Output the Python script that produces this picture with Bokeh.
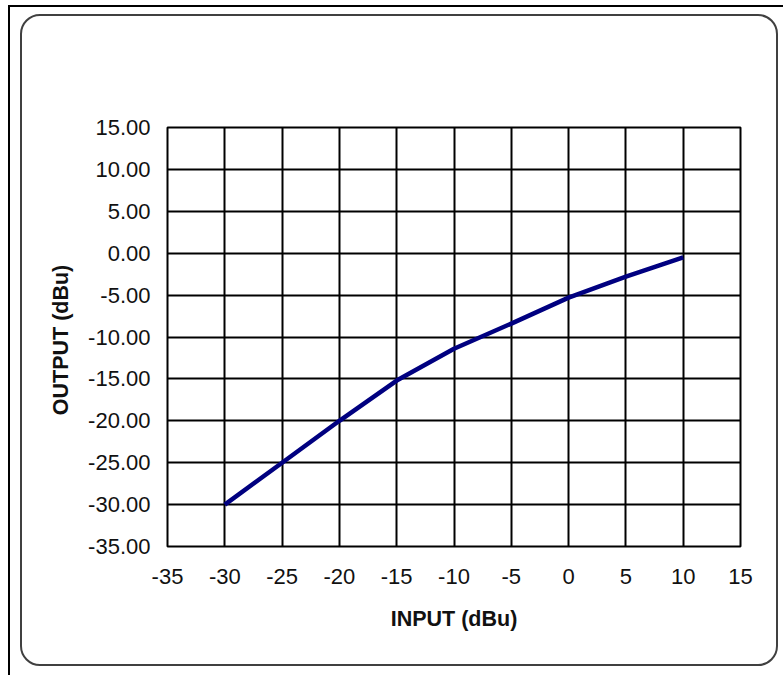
from bokeh.plotting import figure
from bokeh.layouts import column
from bokeh.models import FixedTicker, PrintfTickFormatter, Range1d, Label
from bokeh.embed import file_html
from bokeh.resources import INLINE

# Data
input_dbu = [-30, -25, -20, -15, -10, -5, 0, 5, 10]
output_dbu = [-30.0, -25.0, -20.0, -15.2, -11.4, -8.4, -5.3, -2.8, -0.5]
x_ticks = [-35, -30, -25, -20, -15, -10, -5, 0, 5, 10, 15]
y_ticks = [-35, -30, -25, -20, -15, -10, -5, 0, 5, 10, 15]
title_text = "MIN RATIO"
x_label = "INPUT (dBu)"
y_label = "OUTPUT  (dBu)"

W, H = 754, 648
p = figure(width=W, height=H, output_backend="svg", toolbar_location=None,
           x_range=Range1d(-35, 15), y_range=Range1d(-35, 15),
           min_border_left=145, min_border_right=40,
           min_border_top=111, min_border_bottom=122)
p.styles = {"border": "2px solid #404040", "border-radius": "20px",
            "box-sizing": "content-box"}
p.margin = (7, 0, 0, 10)
p.background_fill_color = "white"
p.border_fill_color = None
p.outline_line_color = "#000000"
p.outline_line_width = 2

FONT = "Liberation Sans"
for ax, ticks, fmt in ((p.xaxis, x_ticks, "%d"), (p.yaxis, y_ticks, "%.2f")):
    ax.ticker = FixedTicker(ticks=ticks)
    ax.formatter = PrintfTickFormatter(format=fmt)
    ax.axis_line_color = None
    ax.major_tick_line_color = None
    ax.minor_tick_line_color = None
    ax.major_tick_in = 0
    ax.major_tick_out = 0
    ax.major_label_text_font = FONT
    ax.major_label_text_font_size = "22px"
    ax.major_label_text_color = "#111111"
    ax.axis_label_text_font = FONT
    ax.axis_label_text_font_size = "21.5px"
    ax.axis_label_text_font_style = "bold"
    ax.axis_label_text_color = "#111111"

p.xaxis.axis_label = x_label
p.yaxis.axis_label = y_label
p.xaxis.major_label_standoff = 22
p.xaxis.axis_label_standoff = 20
p.yaxis.major_label_standoff = 17
p.yaxis.axis_label_standoff = 12

p.xgrid.ticker = FixedTicker(ticks=x_ticks)
p.ygrid.ticker = FixedTicker(ticks=y_ticks)
for g in (p.xgrid, p.ygrid):
    g.grid_line_color = "#000000"
    g.grid_line_width = 2

p.line(input_dbu, output_dbu, line_color="#000080", line_width=4.5)

p.add_layout(Label(x=233, y=496, x_units="screen", y_units="screen", text=title_text,
                   text_font=FONT, text_font_size="22.5px", text_font_style="bold",
                   text_color="#111111", text_align="center", text_baseline="middle"))

page = column(p, styles={"border-left": "2px solid #000000",
                         "border-top": "2px solid #000000",
                         "padding-right": "5px", "padding-bottom": "10px"})
page.margin = (5, 0, 0, 8)

open("out.html", "w").write(file_html(page, INLINE))
